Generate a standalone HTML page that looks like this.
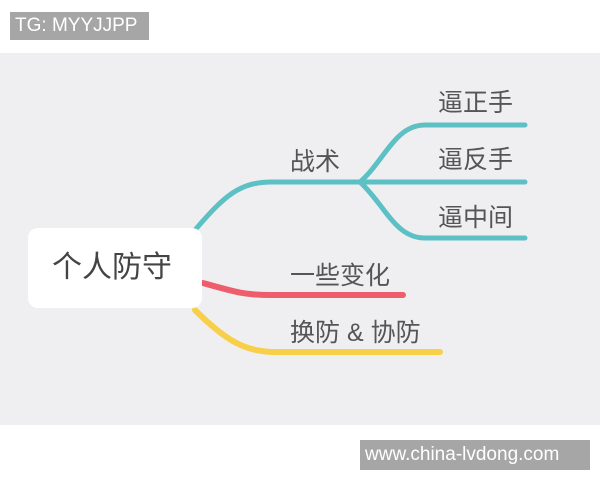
<!DOCTYPE html>
<html><head><meta charset="utf-8"><style>
body{margin:0;width:600px;height:480px;background:#fff;position:relative;overflow:hidden;font-family:"Liberation Sans","Noto Sans CJK SC",sans-serif}
.bg{position:absolute;left:0;top:53px;width:600px;height:372px;background:#efeff2}
.tag{position:absolute;background:#a6a6a6;color:#fff;font-size:19px;line-height:28px;padding-left:5px;box-sizing:border-box;white-space:nowrap}
.node{position:absolute;left:28px;top:228px;width:174px;height:80px;background:#fff;border-radius:10px;font-size:30px;color:#444;line-height:80px;text-indent:24px}
.t{position:absolute;font-size:25px;color:#555;line-height:26px;white-space:nowrap}
</style></head><body>
<div class="bg"></div>
<div class="tag" style="left:10px;top:12px;width:139px;height:28px">TG: MYYJJPP</div>
<div class="tag" style="left:360px;top:440px;width:230px;height:30px;line-height:30px">www.china-lvdong.com</div>
<svg width="600" height="480" style="position:absolute;left:0;top:0" fill="none" stroke-linecap="round">
<g stroke="#5cc0c4" stroke-width="5">
<path d="M195 230 C225 195 240 182 272 182 L360 182"/>
<path d="M360 182 C385 160 395 125 425 125 L525 125"/>
<path d="M360 182 L525 182"/>
<path d="M360 182 C385 205 395 238 425 238 L525 238"/>
</g>
<path d="M203 283 C235 292 245 295 270 295 L403 295" stroke="#ee5d6c" stroke-width="6"/>
<path d="M195 310 C225 340 245 352 275 352 L440 352" stroke="#f8cf48" stroke-width="6"/>
</svg>
<div class="node">个人防守</div>
<div class="t" style="left:290px;top:149px">战术</div>
<div class="t" style="left:438px;top:90px">逼正手</div>
<div class="t" style="left:438px;top:147px">逼反手</div>
<div class="t" style="left:438px;top:205px">逼中间</div>
<div class="t" style="left:290px;top:263px">一些变化</div>
<div class="t" style="left:290px;top:320px">换防 &amp; 协防</div>
</body></html>
